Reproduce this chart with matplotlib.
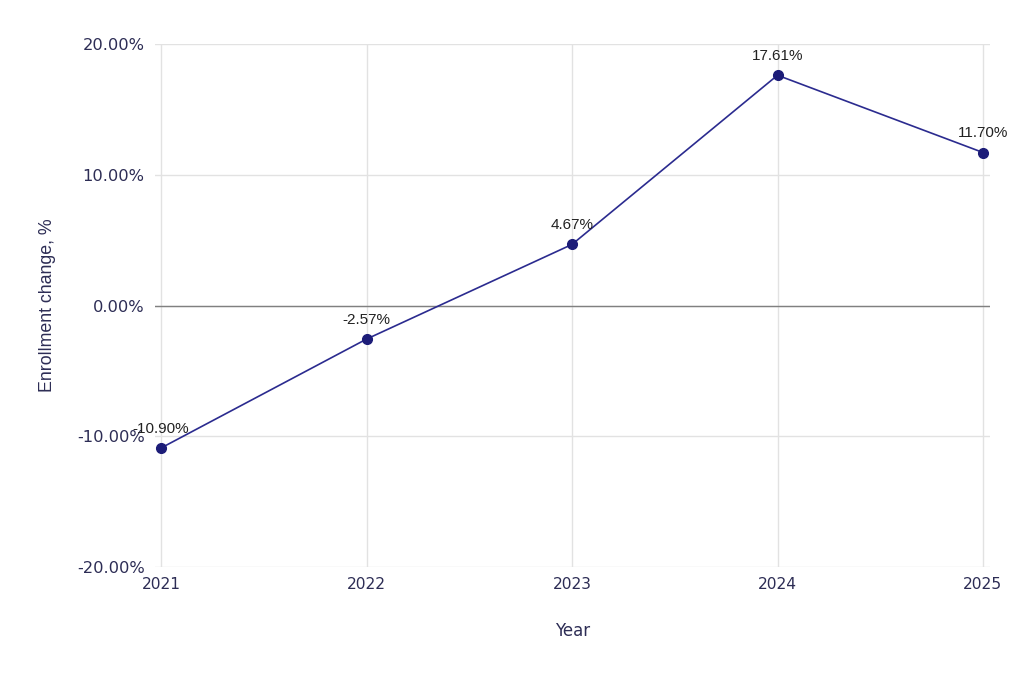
import matplotlib
matplotlib.use("Agg")
import matplotlib.pyplot as plt
from matplotlib.ticker import FuncFormatter

years = [2021, 2022, 2023, 2024, 2025]
changes = [-10.90, -2.57, 4.67, 17.61, 11.70]
y_ticks = [-20, -10, 0, 10, 20]

fig = plt.figure(figsize=(10.24, 6.73), dpi=100)
ax = fig.add_axes([155/1024, 1 - 567/673, (990-155)/1024, (567-44)/673])

ax.set_xlim(2021 - 6/205.5, 2025 + 7/205.5)
ax.set_ylim(-20, 20)
ax.set_xticks(years)
ax.set_yticks(y_ticks)
ax.yaxis.set_major_formatter(FuncFormatter(lambda v, p: f"{v:.2f}%"))
for s in ax.spines.values():
    s.set_visible(False)
ax.grid(True, color="#e2e2e2", linewidth=1)
ax.set_axisbelow(True)
ax.axhline(0, color="#808080", linewidth=1, zorder=1)
ax.tick_params(axis="y", length=0, labelsize=11.7, labelcolor="#2d2d55", pad=7.5)
ax.tick_params(axis="x", length=0, labelsize=11.2, labelcolor="#2d2d55", pad=7)

ax.plot(years, changes, color="#2b2b8f", linewidth=1.2, marker="o",
        markersize=7, markerfacecolor="#1c1c78", markeredgecolor="#1c1c78", zorder=3)
for x, y in zip(years, changes):
    ax.annotate(f"{y:.2f}%", (x, y), xytext=(0, 9), textcoords="offset points",
                ha="center", va="bottom", fontsize=11, family="Liberation Sans",
                color="#222222")

ax.set_xlabel("Year", fontsize=12, color="#2d2d55", labelpad=22)
ax.set_ylabel("Enrollment change, %", fontsize=12.8, family="Liberation Sans",
              color="#2d2d55", labelpad=15)

fig.savefig("out.png", dpi=100)
